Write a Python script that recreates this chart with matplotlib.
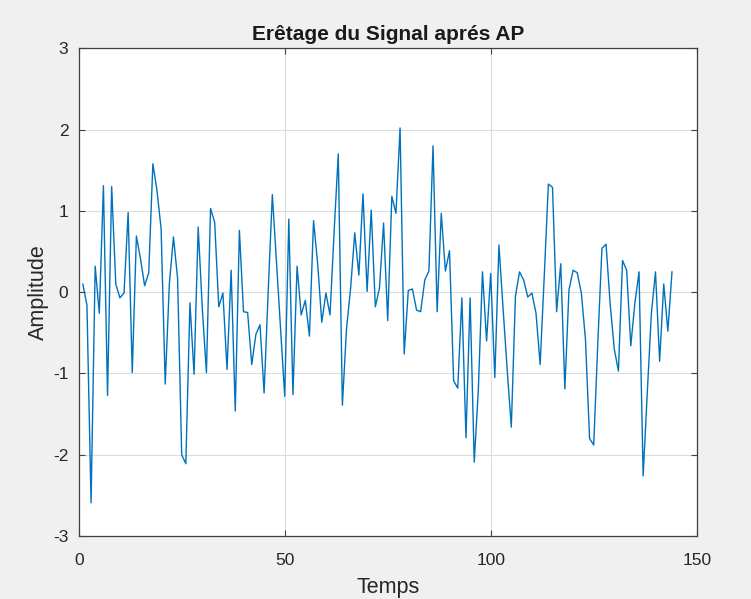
import numpy as np
import matplotlib.pyplot as plt

# Clipped signal samples (after AP)
amplitude = [
    0.10, -0.16, -2.59, 0.32, -0.26, 1.31, -1.27, 1.30, 0.10, -0.07,
    -0.01, 0.98, -0.99, 0.69, 0.41, 0.08, 0.24, 1.58, 1.25, 0.78,
    -1.13, 0.10, 0.68, 0.17, -2.00, -2.11, -0.13, -1.01, 0.80, -0.20,
    -0.99, 1.03, 0.86, -0.18, -0.01, -0.95, 0.27, -1.46, 0.76, -0.24,
    -0.25, -0.89, -0.52, -0.40, -1.24, 0.02, 1.20, 0.37, -0.45, -1.28,
    0.90, -1.26, 0.32, -0.28, -0.10, -0.54, 0.88, 0.35, -0.37, -0.01,
    -0.28, 0.75, 1.70, -1.39, -0.45, 0.05, 0.73, 0.21, 1.21, 0.01,
    1.01, -0.18, 0.05, 0.85, -0.35, 1.18, 0.97, 2.02, -0.76, 0.02,
    0.04, -0.22, -0.24, 0.15, 0.26, 1.80, -0.24, 0.97, 0.26, 0.51,
    -1.09, -1.18, -0.07, -1.79, -0.07, -2.09, -1.20, 0.25, -0.60, 0.23,
    -1.05, 0.58, -0.20, -0.95, -1.66, -0.05, 0.25, 0.15, -0.06, -0.01,
    -0.26, -0.89, 0.20, 1.33, 1.29, -0.24, 0.35, -1.19, 0.03, 0.27,
    0.24, -0.01, -0.58, -1.80, -1.88, -0.62, 0.54, 0.59, -0.15, -0.70,
    -0.97, 0.39, 0.27, -0.66, -0.13, 0.25, -2.26, -1.24, -0.26, 0.25,
    -0.85, 0.10, -0.48, 0.25,
]
temps = np.arange(1, len(amplitude) + 1)

plt.rcParams['font.family'] = ['Liberation Sans', 'DejaVu Sans']
plt.rcParams['axes.unicode_minus'] = False

fig = plt.figure(figsize=(7.51, 5.99), dpi=100, facecolor='#f0f0f0')
ax = fig.add_axes([0.1048, 0.105, 0.8229, 0.8144])
ax.plot(temps, amplitude, color='#0072bd', linewidth=1.0)

ax.set_xlim(0, 150)
ax.set_ylim(-3, 3)
ax.set_xticks([0, 50, 100, 150])
ax.set_yticks(np.arange(-3, 4, 1))
ax.grid(True, color='#dcdcdc', linewidth=0.8)
ax.set_axisbelow(True)

for side in ax.spines.values():
    side.set_color('#404040')
    side.set_linewidth(0.9)
ax.tick_params(direction='in', length=4, width=0.8, colors='#404040',
               labelcolor='#262626', labelsize=12.5, top=True, right=True)
ax.tick_params(axis='x', pad=12.5)
ax.tick_params(axis='y', pad=7.5)

ax.set_title('Erêtage du Signal aprés AP', fontsize=15, fontweight='bold',
             color='#1a1a1a', pad=6)
ax.set_xlabel('Temps', fontsize=15.5, color='#262626', labelpad=6)
ax.set_ylabel('Amplitude', fontsize=15.5, color='#262626', labelpad=3)

fig.savefig('out.png', dpi=100, facecolor=fig.get_facecolor())
